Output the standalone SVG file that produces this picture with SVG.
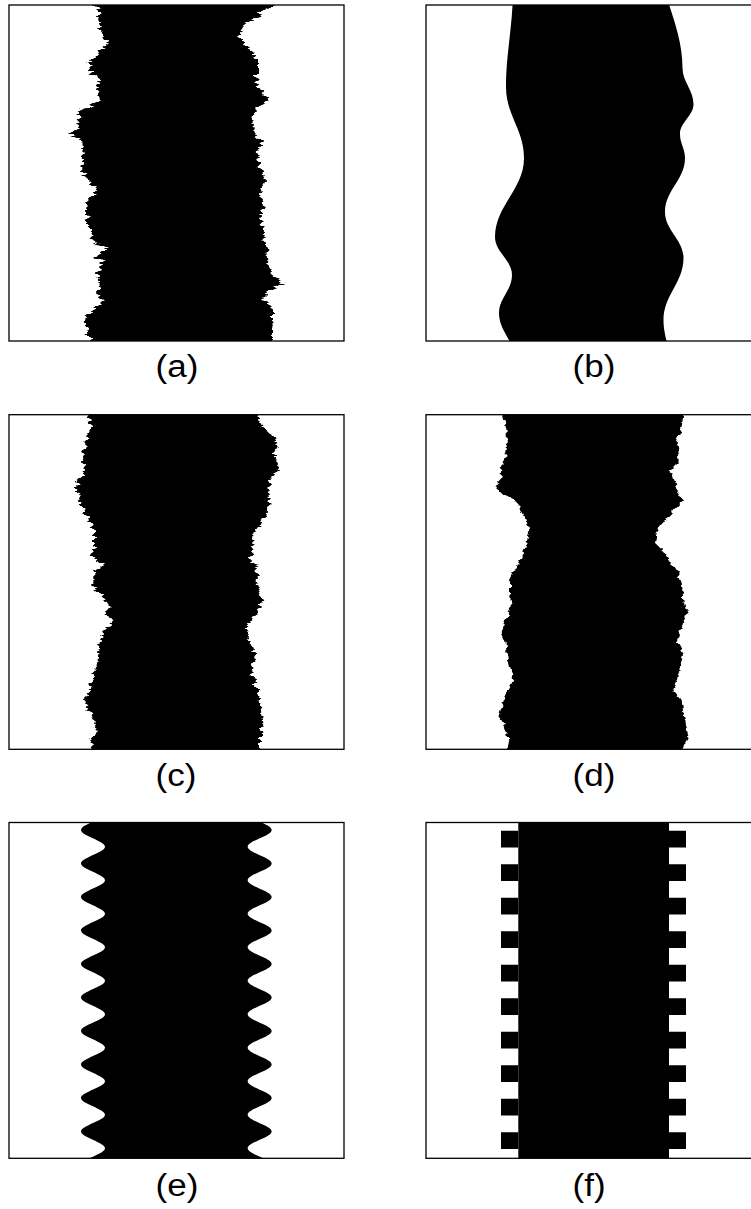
<svg xmlns="http://www.w3.org/2000/svg" width="751" height="1209" viewBox="0 0 751 1209">
<style>
.bg{fill:#fff}
.shape{fill:#000;stroke:none}
.box{fill:none;stroke:#000;stroke-width:1.3}
.lbl{font-family:"Liberation Sans",Arial,sans-serif;font-size:31px;fill:#000}
</style>
<defs>
<filter id="jagA" x="-20%" y="-10%" width="140%" height="120%" filterUnits="objectBoundingBox">
<feTurbulence type="fractalNoise" baseFrequency="0.04 0.32" numOctaves="2" seed="4" result="n"/>
<feDisplacementMap in="SourceGraphic" in2="n" scale="12" xChannelSelector="R" yChannelSelector="G"/>
</filter>
<filter id="jagC" x="-20%" y="-10%" width="140%" height="120%">
<feTurbulence type="fractalNoise" baseFrequency="0.04 0.3" numOctaves="2" seed="11" result="n"/>
<feDisplacementMap in="SourceGraphic" in2="n" scale="11" xChannelSelector="R" yChannelSelector="G"/>
</filter>
<filter id="jagD" x="-20%" y="-10%" width="140%" height="120%">
<feTurbulence type="fractalNoise" baseFrequency="0.06 0.2" numOctaves="2" seed="7" result="n"/>
<feDisplacementMap in="SourceGraphic" in2="n" scale="7" xChannelSelector="R" yChannelSelector="G"/>
</filter>
<clipPath id="clipA"><rect x="9" y="5" width="335" height="336"/></clipPath>
<clipPath id="clipB"><rect x="426" y="5" width="335" height="336"/></clipPath>
<clipPath id="clipC"><rect x="9" y="414.7" width="335" height="334.6"/></clipPath>
<clipPath id="clipD"><rect x="426" y="414.7" width="335" height="334.6"/></clipPath>
<clipPath id="clipE"><rect x="9" y="822.5" width="335" height="335.8"/></clipPath>
<clipPath id="clipF"><rect x="426" y="822.5" width="335" height="335.8"/></clipPath>
</defs>
<rect class="bg" x="0" y="0" width="751" height="1209"/>

<g id="panel-a">
<g clip-path="url(#clipA)">
<polygon class="shape" filter="url(#jagA)" points="92,-5 92,5 100,10 98,20 102,33 108,43 100,50 95,60 87,70 100,80 97,90 100,100 87,107 77,110 80,120 78,127 69,135 80,140 82,147 83,160 82,173 90,180 97,188 88,200 87,213 88,227 93,240 107,248 95,257 103,263 98,273 100,287 95,293 103,300 93,310 85,320 87,330 90,341 90,351 272,351 272,341 272,330 273,320 273,310 263,300 270,290 282,282 270,273 268,260 267,247 263,233 260,220 262,207 260,193 265,180 260,167 257,153 263,143 255,133 252,120 257,107 268,100 258,87 257,73 257,60 250,50 243,40 240,33 247,23 257,17 267,10 275,5 278,-5"/>
</g>
<rect class="box" x="9" y="5" width="335" height="336"/>
<text class="lbl" transform="translate(155.5,377) scale(1.13,1)">(a)</text>
</g>

<g id="panel-b">
<g clip-path="url(#clipB)">
<path class="shape" d="M513,-5 C512,30 506,55 506,87 C506,115.4 524,129.6 524,158 C524,189.6 495,205.4 495,237 C495,252.2 512,259.8 512,275 C512,290.2 499,297.8 499,313 C499,331.8 515,341.2 515,360 L668,355 C668,341 663.5,334 663.5,320 C663.5,295.2 683.5,282.8 683.5,258 C683.5,239.6 665,230.4 665,212 C665,190.4 685,179.6 685,158 C685,148.4 680,143.6 680,134 C680,122 693.5,116 693.5,104 C693.5,90 682.5,82 682.5,68 C682.5,40 672,15 666,-5 Z"/>
</g>
<rect class="box" x="426" y="5" width="335" height="336"/>
<text class="lbl" transform="translate(572.5,377) scale(1.13,1)">(b)</text>
</g>

<g id="panel-c">
<g clip-path="url(#clipC)">
<polygon class="shape" filter="url(#jagC)" points="88,405 88.3,414.7 91.7,423 86.7,433 85,447 81.7,460 85,470 76.7,480 76,490 80,500 85,513 91.7,523 95,533 95,547 91.7,557 103.3,565 93.3,573 93.3,587 103.3,597 108.3,603 106.7,613 113.3,622 105,630 100,640 98.3,653 96.7,667 93.3,680 88.3,693 83.3,702 90,710 95,720 96.7,730 91.7,740 90,749.3 90,759 260,759 260,749.3 260,733 263.3,723 261.7,710 258.3,693 253.3,680 251.7,667 256.7,653 248.3,640 246.7,627 256.7,613 261.7,600 256.7,580 256.7,567 250,563 253.3,547 253.3,533 260,523 266.7,513 270,500 268.3,487 271.7,477 280,467 273.3,453 278.3,443 270,433 263.3,427 258.3,414.7 258,405"/>
</g>
<rect class="box" x="9" y="414.7" width="335" height="334.6"/>
<text class="lbl" transform="translate(155.5,786) scale(1.13,1)">(c)</text>
</g>

<g id="panel-d">
<g clip-path="url(#clipD)">
<polygon class="shape" filter="url(#jagD)" points="503,405 503.3,414.7 506.7,433 506.7,450 501.7,467 500,480 496,488 503.3,495 513.3,500 520,507 525,517 529.3,530 526.7,543 523.3,553 516.7,567 510,580 510,593 511.7,607 505,620 501.7,633 505,640 506.7,653 510,667 513.3,680 506.7,693 501.7,707 498.3,717 505,727 508.3,737 506.7,749.3 506.7,759 682,759 681.7,749.3 688.3,737 686.7,727 683.3,713 681.7,700 673.3,690 676.7,680 680,667 683.3,653 676.7,640 681.7,627 686.7,613 683.3,600 681.7,583 676.7,570 670,560 663.3,550 655,542 656.7,533 663.3,523 673.3,510 683.3,500 676.7,490 673.3,480 670,470 680,460 676.7,443 681.7,427 683.3,414.7 683,405"/>
</g>
<rect class="box" x="426" y="414.7" width="335" height="334.6"/>
<text class="lbl" transform="translate(572.5,786) scale(1.13,1)">(d)</text>
</g>

<g id="panel-e">
<g clip-path="url(#clipE)">
<path class="shape" d="M105,813.25 C105,819.34 81,823.91 81,830 S105,840.66 105,846.75 S81,857.41 81,863.5 S105,874.16 105,880.25 S81,890.91 81,897 S105,907.66 105,913.75 S81,924.41 81,930.5 S105,941.16 105,947.25 S81,957.91 81,964 S105,974.66 105,980.75 S81,991.41 81,997.5 S105,1008.16 105,1014.25 S81,1024.91 81,1031 S105,1041.66 105,1047.75 S81,1058.41 81,1064.5 S105,1075.16 105,1081.25 S81,1091.91 81,1098 S105,1108.66 105,1114.75 S81,1125.41 81,1131.5 S105,1142.16 105,1148.25 S81,1158.91 81,1165 L271.7,1165 C271.7,1158.91 247.7,1154.34 247.7,1148.25 S271.7,1137.59 271.7,1131.5 S247.7,1120.84 247.7,1114.75 S271.7,1104.09 271.7,1098 S247.7,1087.34 247.7,1081.25 S271.7,1070.59 271.7,1064.5 S247.7,1053.84 247.7,1047.75 S271.7,1037.09 271.7,1031 S247.7,1020.34 247.7,1014.25 S271.7,1003.59 271.7,997.5 S247.7,986.84 247.7,980.75 S271.7,970.09 271.7,964 S247.7,953.34 247.7,947.25 S271.7,936.59 271.7,930.5 S247.7,919.84 247.7,913.75 S271.7,903.09 271.7,897 S247.7,886.34 247.7,880.25 S271.7,869.59 271.7,863.5 S247.7,852.84 247.7,846.75 S271.7,836.09 271.7,830 S247.7,819.34 247.7,813.25 Z"/>
</g>
<rect class="box" x="9" y="822.5" width="335" height="335.8"/>
<text class="lbl" transform="translate(155.5,1195.5) scale(1.13,1)">(e)</text>
</g>

<g id="panel-f">
<g clip-path="url(#clipF)">
<rect class="shape" x="518.3" y="822.5" width="150.7" height="335.8"/>
<path class="shape" d="M501,830.7h17.3v16.75h-17.3z M501,864.2h17.3v16.75h-17.3z M501,897.7h17.3v16.75h-17.3z M501,931.2h17.3v16.75h-17.3z M501,964.7h17.3v16.75h-17.3z M501,998.2h17.3v16.75h-17.3z M501,1031.7h17.3v16.75h-17.3z M501,1065.2h17.3v16.75h-17.3z M501,1098.7h17.3v16.75h-17.3z M501,1132.2h17.3v16.75h-17.3z M669,830.7h17v16.75h-17z M669,864.2h17v16.75h-17z M669,897.7h17v16.75h-17z M669,931.2h17v16.75h-17z M669,964.7h17v16.75h-17z M669,998.2h17v16.75h-17z M669,1031.7h17v16.75h-17z M669,1065.2h17v16.75h-17z M669,1098.7h17v16.75h-17z M669,1132.2h17v16.75h-17z"/>
</g>
<rect class="box" x="426" y="822.5" width="335" height="335.8"/>
<text class="lbl" transform="translate(572.5,1195.5) scale(1.13,1)">(f)</text>
</g>
</svg>
